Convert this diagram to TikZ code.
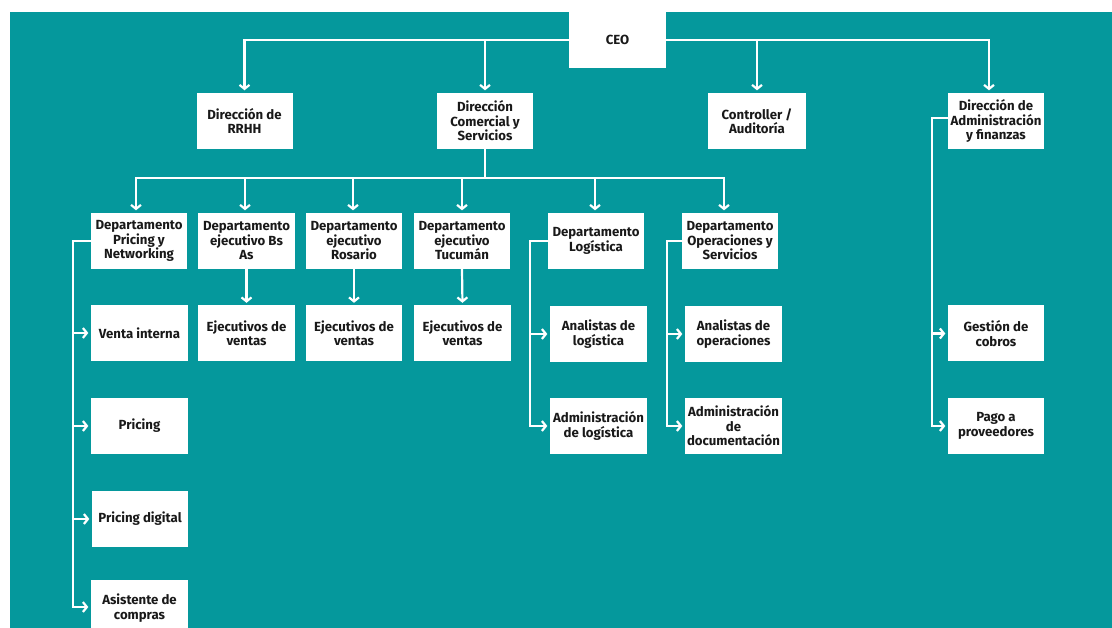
\documentclass[tikz,border=0pt]{standalone}
\usepackage{fontspec}
\setmainfont{Fira Sans}
\usetikzlibrary{arrows.meta,calc}
\definecolor{teal1}{RGB}{5,152,156}
\begin{document}
\begin{tikzpicture}[x=1pt,y=-1pt,
  box/.style={fill=white, minimum width=96pt, minimum height=56pt, inner sep=0.5pt, align=center,
    font=\bfseries\fontsize{13.2}{14.5}\selectfont, text=black!90},
  arr/.style={draw=white, line width=2.2pt, -{Straight Barb[length=4pt,width=10pt]}, shorten >=2.5pt},
  ln/.style={draw=white, line width=2.2pt}]
\useasboundingbox (0,0) rectangle (1112,628);
\clip (0,0) rectangle (1112,628);
\fill[teal1] (10,12) rectangle (1112,628);

% level 1
\node[box, minimum width=97pt] (ceo) at (617.5,40) {CEO};
% level 2
\node[box] (rrhh) at (244.5,121) {Dirección de\\RRHH};
\node[box] (com) at (485,121) {Dirección\\Comercial y\\Servicios};
\node[box, minimum width=98pt] (ctrl) at (757,121) {Controller /\\Auditoría};
\node[box] (adm) at (996,121) {Dirección de\\Administración\\y finanzas};
% level 3
\node[box] (d1) at (139,241) {Departamento\\Pricing y\\Networking};
\node[box, minimum width=97pt] (d2) at (246.5,241) {Departamento\\ejecutivo Bs\\As};
\node[box] (d3) at (354,241) {Departamento\\ejecutivo\\Rosario};
\node[box] (d4) at (462,241) {Departamento\\ejecutivo\\Tucumán};
\node[box] (d5) at (596,241) {Departamento\\Logística};
\node[box] (d6) at (730,241) {Departamento\\Operaciones y\\Servicios};
% ejecutivos
\node[box, minimum width=97pt] (e2) at (246.5,333.5) {Ejecutivos de\\ventas};
\node[box] (e3) at (354,333.5) {Ejecutivos de\\ventas};
\node[box, minimum width=97pt] (e4) at (462.5,333.5) {Ejecutivos de\\ventas};
% pricing children
\node[box, minimum width=97pt] (p1) at (139.5,333) {Venta interna};
\node[box, minimum width=97pt] (p2) at (139.5,426) {Pricing};
\node[box] (p3) at (140,519) {Pricing digital};
\node[box, minimum width=97pt] (p4) at (139.5,608) {Asistente de\\compras};
% logistica children
\node[box, minimum width=97pt] (l1) at (598.5,334) {Analistas de\\logística};
\node[box, minimum width=97pt] (l2) at (598.5,426) {Administración\\de logística};
% operaciones children
\node[box, minimum width=97pt] (o1) at (733.5,334) {Analistas de\\operaciones};
\node[box, minimum width=97pt] (o2) at (733.5,426) {Administración\\de\\documentación};
% admin children
\node[box] (a1) at (996,333.5) {Gestión de\\cobros};
\node[box] (a2) at (996,426) {Pago a\\proveedores};

% CEO connectors
\draw[arr] (ceo.west) -| (rrhh.north);
\draw[arr] (ceo.west) -| (com.north);
\draw[arr] (ceo.east) -| (ctrl.north);
\draw[arr] (ceo.east) -| ($(adm.north)+(-7,0)$);

% Comercial bus
\coordinate (bus) at (485,178);
\draw[ln] (com.south) -- (bus);
\draw[arr] (bus) -| ($(d1.north)+(-3,0)$);
\draw[arr] (bus) -| ($(d2.north)+(-1.5,0)$);
\draw[arr] (bus) -| ($(d3.north)+(-1,0)$);
\draw[arr] (bus) -| (d4.north);
\draw[arr] (bus) -| ($(d5.north)+(-1,0)$);
\draw[arr] (bus) -| ($(d6.north)+(-6,0)$);

% departments to ejecutivos
\draw[arr] (d2.south) -- (e2.north);
\draw[arr] (d3.south) -- (e3.north);
\draw[arr] (d4.south) -- (e4.north);

% pricing tree
\draw[arr] (d1.west) -- ++(-18,0) |- (p1.west);
\draw[arr] (d1.west) -- ++(-18,0) |- (p2.west);
\draw[arr] (d1.west) -- ++(-18,0) |- (p3.west);
\draw[arr] (d1.west) -- ++(-18,0) |- ($(p4.west)+(0,-1)$);

% logistica tree
\draw[arr] (d5.west) -- ++(-18,0) |- (l1.west);
\draw[arr] (d5.west) -- ++(-18,0) |- (l2.west);

% operaciones tree
\draw[arr] (d6.west) -- ++(-15,0) |- (o1.west);
\draw[arr] (d6.west) -- ++(-15,0) |- (o2.west);

% admin tree
\draw[arr] ($(adm.west)+(0,-3)$) -- ++(-16,0) |- (a1.west);
\draw[arr] ($(adm.west)+(0,-3)$) -- ++(-16,0) |- (a2.west);
\end{tikzpicture}
\end{document}
